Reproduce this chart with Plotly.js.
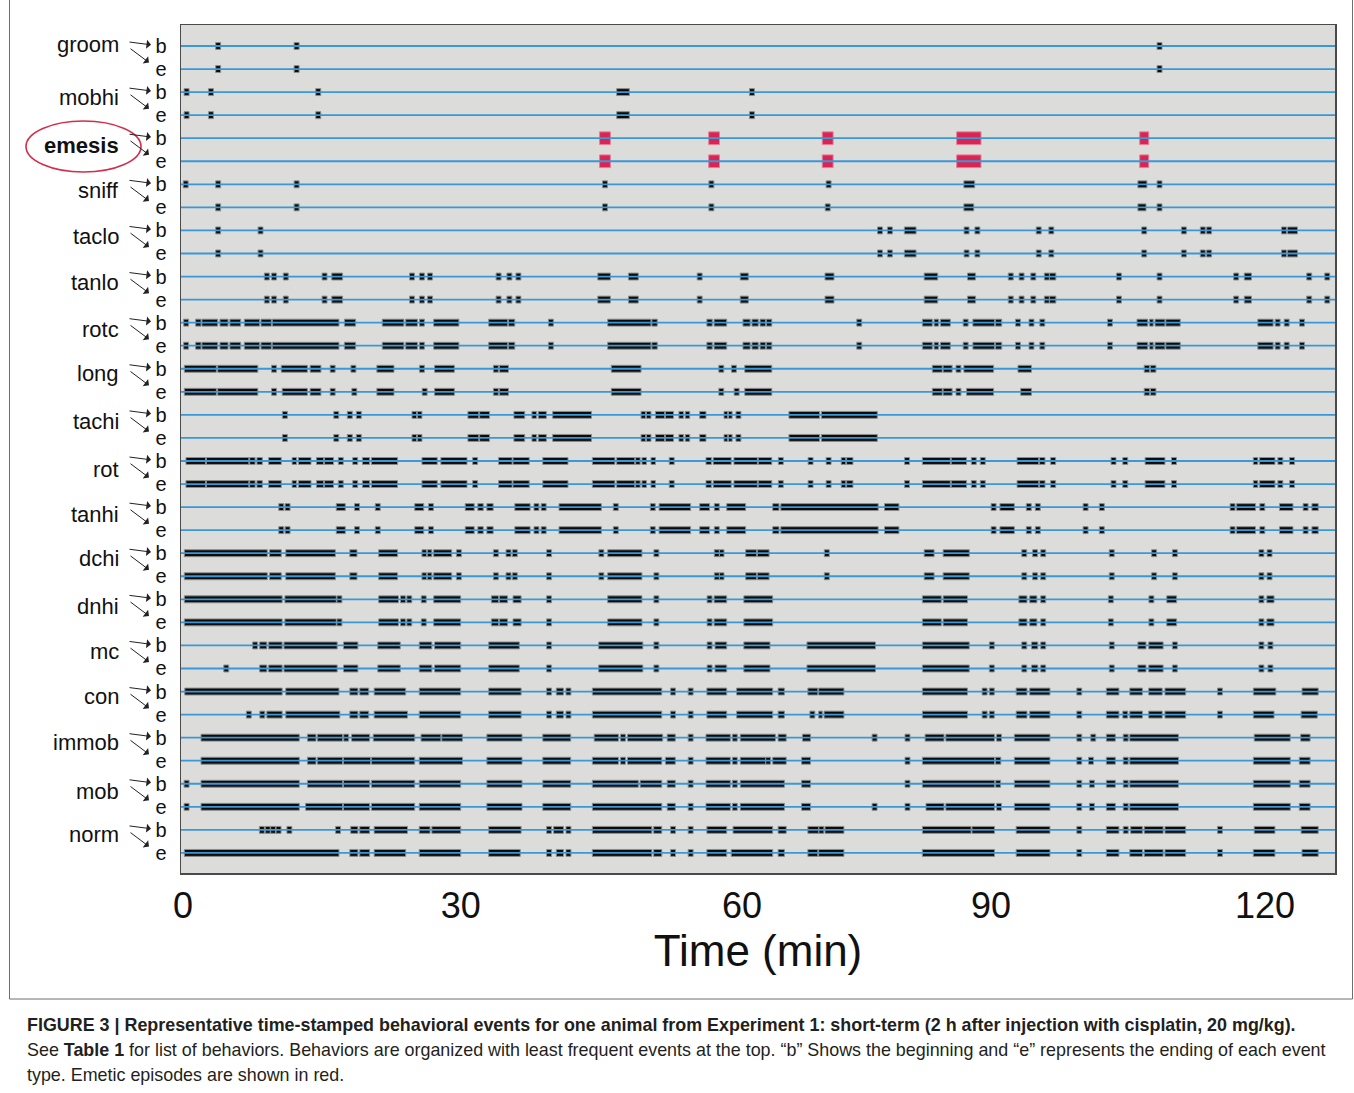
<!DOCTYPE html>
<html><head><meta charset="utf-8">
<script src="https://cdn.plot.ly/plotly-3.0.1.min.js"></script>
<style>html,body{margin:0;padding:0;background:#fff}</style>
</head><body><div id="chart" style="width:1354px;height:1093px"></div>
<script>
// ---- Data (time in minutes; a number = single event, [start,end] = run of events) ----
const behaviors = ['groom','mobhi','emesis','sniff','taclo','tanlo','rotc','long','tachi','rot','tanhi','dchi','dnhi','mc','con','immob','mob','norm'];
const rowLabels = ['b','e'];
const xTickVals = [0, 30.8, 62.0, 89.6, 120];
const xTickText = ['0','30','60','90','120'];

const groomB = [3.9, 12.6, 108.3];
const groomE = [3.9, 12.6, 108.3];
const mobhiB = [0.4, 3.1, 15.0, [48.1,49.5], 63.1];
const mobhiE = [0.4, 3.1, 15.0, [48.1,49.5], 63.1];
const emesisB = [[46.2,47.4],[58.3,59.5],[70.9,72.1],[85.8,88.5],[106.1,107.1]];
const emesisE = [[46.2,47.4],[58.3,59.5],[70.9,72.1],[85.8,88.5],[106.1,107.1]];
const sniffB = [0.3, 3.9, 12.6, 46.8, 58.6, 71.6, [86.6,87.8], [105.9,106.9], 108.3];
const sniffE = [3.9, 12.6, 46.8, 58.6, 71.5, [86.6,87.7], [105.9,106.8], 108.3];
const tacloB = [3.9, 8.6, 77.3, 78.4, [80.0,81.3], 86.9, 88.1, 94.9, 96.3, 106.6, 111.0, 113.1, 113.8, 122.1, [122.5,123.6]];
const tacloE = [3.9, 8.6, 77.3, 78.4, [80.0,81.3], 86.9, 88.1, 94.9, 96.3, 106.6, 111.0, 113.1, 113.8, 122.1, [122.5,123.6]];
const tanloB = [9.3, 10.1, 11.4, 15.7, [16.5,17.7], 25.4, 26.5, 27.4, 35.0, 36.2, 37.2, [46.0,47.4], [49.4,50.5], 57.3, [61.8,62.7], [71.2,72.2], [82.2,83.7], [87.0,87.9], 91.8, 93.0, 94.3, 95.8, [96.1,96.8], 103.8, 108.3, 116.8, [117.7,118.5], 124.9, 126.9];
const tanloE = [9.3, 10.1, 11.4, 15.7, [16.5,17.7], 25.4, 26.5, 27.4, 35.0, 36.2, 37.2, [46.0,47.4], [49.4,50.5], 57.3, [61.8,62.7], [71.2,72.2], [82.2,83.7], [87.0,87.9], 91.8, 93.0, 94.3, 95.8, [96.1,96.8], 103.8, 108.3, 116.8, [117.7,118.5], 124.9, 126.9];
const rotcB = [0.35, [1.4,2.0], [2.1,3.85], [4.1,5.0], [5.2,6.4], [6.8,8.5], [8.65,9.8], [9.9,17.3], [17.9,19.15], [22.1,24.5], [24.7,26.0], 26.5, [27.8,30.6], [33.9,36.0], [36.1,36.8], 40.8, [47.1,51.9], [52.0,52.6], [58.1,58.7], [58.9,60.3], [62.1,62.9], [63.1,63.8], [64.0,64.6], [64.7,65.3], 75.0, [82.0,83.1], [83.3,83.8], [84.0,85.1], 86.8, [87.6,90.0], [90.1,90.8], 92.6, 94.1, 95.3, 102.8, [105.8,107.0], [107.2,107.6], [107.8,108.9], [109.0,110.6], [119.2,120.9], 121.4, 122.4, 124.1];
const rotcE = [0.35, [1.4,2.0], [2.1,3.85], [4.1,5.0], [5.2,6.4], [6.8,8.5], [8.65,9.8], [9.9,17.3], [17.9,19.15], [22.1,24.5], [24.7,26.0], 26.5, [27.8,30.6], [33.9,36.0], [36.1,36.8], 40.8, [47.1,51.9], [52.0,52.6], [58.1,58.7], [58.9,60.3], [62.1,62.9], [63.1,63.8], [64.0,64.6], [64.7,65.3], 75.0, [82.0,83.1], [83.3,83.8], [84.0,85.1], 86.8, [87.6,90.0], [90.1,90.8], 92.6, 94.1, 95.3, 102.8, [105.8,107.0], [107.2,107.6], [107.8,108.9], [109.0,110.6], [119.2,120.9], 121.4, 122.4, 124.1];
const longB = [[0.15,3.7], [3.85,8.3], 10.1, [10.9,13.8], [14.1,15.3], 16.6, 18.9, [21.5,23.4], 26.5, [27.9,30.1], 34.7, [35.1,36.1], [47.5,50.8], 59.7, 61.1, [62.3,65.3], [83.1,84.2], [84.3,85.3], 86.0, [86.6,89.9], [92.6,94.1], [106.6,107.2], [107.3,107.9]];
const longE = [[0.15,3.7], [3.85,8.3], 10.1, [11.0,13.8], [14.1,15.3], 16.6, 19.0, [21.5,23.4], 26.8, [27.9,30.1], 34.7, [35.1,36.1], [47.5,50.8], 59.7, 61.4, [62.3,65.3], [83.1,84.2], [84.3,85.3], 86.0, [86.9,89.9], [92.9,94.1], [106.6,107.2], [107.3,107.9]];
const tachiB = [11.3, 17.0, 18.5, 19.5, [25.4,25.9], [26.0,26.5], [31.6,32.8], [32.9,34.0], [36.7,37.9], [38.7,39.2], [39.4,40.3], [41.0,45.3], [50.8,51.3], [51.4,51.9], [52.4,53.4], [53.5,54.4], [55.0,55.5], [55.7,56.2], [57.3,58.0], [60.0,60.4], [60.5,60.9], 61.6, [67.2,70.6], [70.8,77.0]];
const tachiE = [11.3, 17.0, 18.5, 19.5, [25.4,25.9], [26.0,26.5], [31.6,32.8], [32.9,34.0], [36.7,37.9], [38.7,39.2], [39.4,40.3], [41.0,45.3], [50.8,51.3], [51.4,51.9], [52.4,53.4], [53.5,54.4], [55.0,55.5], [55.7,56.2], [57.3,58.0], [60.0,60.4], [60.5,60.9], 61.6, [67.2,70.6], [70.8,77.0]];
const rotB = [[0.33,2.5], [2.6,7.3], [7.4,8.0], [8.2,8.8], [9.5,10.9], [12.1,12.6], [12.8,14.2], [14.8,15.6], [15.7,16.7], 17.5, 19.1, [19.9,20.7], [20.9,23.8], [26.5,28.2], [28.6,31.5], 32.4, [35.0,36.5], [36.6,38.4], [39.9,42.7], [45.4,47.9], [48.1,50.1], [50.2,50.7], [50.9,51.4], [51.9,52.4], 54.2, [58.0,58.6], [58.8,60.8], [61.1,63.7], [63.8,65.3], 66.3, 69.6, 71.6, [73.0,73.5], [73.6,74.3], 80.3, [82.0,85.1], [85.2,86.9], 87.7, 88.7, [92.5,94.9], [95.0,95.6], 96.5, 103.2, 104.5, [106.7,108.9], 109.9, [118.7,119.2], [119.4,121.1], 121.7, 123.0];
const rotE = [[0.33,2.5], [2.6,7.3], [7.4,8.0], [8.2,8.8], [9.5,10.9], [12.1,12.6], [12.8,14.2], [14.8,15.6], [15.7,16.7], 17.5, 19.1, [19.9,20.7], [20.9,23.8], [26.5,28.2], [28.6,31.5], 32.4, [35.0,36.5], [36.6,38.4], [39.9,42.7], [45.4,47.9], [48.1,50.1], [50.2,50.7], [50.9,51.4], [51.9,52.4], 54.2, [58.0,58.6], [58.8,60.8], [61.1,63.7], [63.8,65.3], 66.3, 69.6, 71.6, [73.0,73.5], [73.6,74.3], 80.3, [82.0,85.1], [85.2,86.9], 87.7, 88.7, [92.5,94.9], [95.0,95.6], 96.5, 103.2, 104.5, [106.7,108.9], 109.9, [118.7,119.2], [119.4,121.1], 121.7, 123.0];
const tanhiB = [10.9, 11.6, [17.0,18.0], 19.3, 21.6, [25.7,26.7], 27.5, [31.3,32.3], [32.7,33.3], [33.7,34.4], [36.8,38.5], 39.2, 40.0, [41.7,46.4], 48.0, 52.1, [52.8,56.3], [57.3,58.4], 59.2, [60.3,62.4], [65.4,66.1], [66.3,77.1], [77.8,79.4], 89.9, [90.6,92.2], 93.8, 94.8, 100.1, 101.9, 116.4, [116.85,118.95], 119.7, [121.6,123.1], 124.5, [125.2,125.9]];
const tanhiE = [10.9, 11.6, [17.0,18.0], 19.3, 21.6, [25.7,26.7], 27.5, [31.3,32.3], [32.7,33.3], [33.7,34.4], [36.8,38.5], 39.2, 40.0, [41.7,46.4], 48.0, 52.1, [52.8,56.3], [57.3,58.4], 59.2, [60.3,62.4], [65.4,66.1], [66.3,77.1], [77.8,79.4], 89.9, [90.6,92.2], 93.8, 94.8, 100.1, 101.9, 116.4, [116.85,118.95], 119.7, [121.6,123.1], 124.5, [125.2,125.9]];
const dchiB = [[0.15,9.35], [9.6,10.9], [11.4,16.9], [18.5,19.3], [21.7,23.8], [26.5,27.0], [27.1,27.6], [27.8,29.8], 30.6, 34.7, 36.1, 36.8, 40.6, 46.4, [47.1,50.9], 52.5, 59.2, [59.5,60.0], [62.4,63.6], [63.7,65.0], 71.4, [82.2,83.3], [84.3,87.2], 93.3, 94.5, 95.4, 103.0, 107.7, 110.0, 119.6, 120.5];
const dchiE = [[0.15,9.35], [9.6,10.9], [11.4,16.9], [18.5,19.3], [21.7,23.8], [26.5,27.0], [27.1,27.6], [27.8,29.8], 30.6, 34.7, 36.1, 36.8, 40.6, 46.4, [47.1,50.9], 52.5, 59.2, [59.5,60.0], [62.4,63.6], [63.7,65.0], 71.4, [82.2,83.3], [84.3,87.2], 93.3, 94.5, 95.4, 103.0, 107.7, 110.0, 119.6, 120.5];
const dnhiB = [[0.15,11.0], [11.3,17.0], 17.35, [21.7,23.9], 24.4, 25.1, 26.7, [27.8,30.8], [34.2,35.0], [35.1,36.0], [36.6,37.5], 40.6, [47.1,50.9], 52.5, 58.4, [58.9,60.3], [62.2,65.4], [82.0,84.1], [84.3,87.0], [92.7,93.6], [93.9,94.7], 95.4, 102.9, 107.4, [109.1,110.2], 119.6, [120.2,121.0]];
const dnhiE = [[0.15,11.0], [11.3,17.0], 17.35, [21.7,23.9], 24.4, 25.1, 26.7, [27.8,30.8], [34.2,35.0], [35.1,36.0], [36.6,37.5], 40.6, [47.1,50.9], 52.5, 58.4, [58.9,60.3], [62.2,65.4], [82.0,84.1], [84.3,87.0], [92.7,93.6], [93.9,94.7], 95.4, 102.9, 107.4, [109.1,110.2], 119.6, [120.2,121.0]];
const mcB = [8.0, [8.5,9.3], [9.5,11.0], [11.2,17.1], [17.8,19.4], [21.6,24.1], [26.2,27.6], [27.9,30.8], [33.9,37.3], 40.6, [46.1,51.0], 52.5, 58.4, [59.0,60.3], [62.2,65.1], [69.2,76.8], [82.0,87.2], 89.7, 93.3, [94.1,94.8], 95.4, 103.0, [105.9,106.8], [107.1,108.7], 110.0, 119.6, 120.6];
const mcE = [4.8, [8.5,9.3], [9.5,11.0], [11.2,17.1], [17.8,19.4], [21.6,24.1], [26.2,27.6], [27.9,30.8], [33.9,37.3], 40.6, [46.1,51.0], 52.5, 58.4, [59.0,60.3], [62.2,65.1], [69.2,76.8], [82.0,87.2], 89.7, 93.3, [94.1,94.8], 95.4, 103.0, [105.9,106.8], [107.1,108.7], 110.0, 119.6, 120.6];
const conB = [[0.2,11.0], [11.4,17.3], [18.5,19.4], [19.6,20.6], [21.2,24.7], [26.2,30.8], [33.9,37.5], 40.6, [41.4,42.2], 42.75, [45.4,53.1], 54.35, 56.3, [58.1,60.3], [61.4,65.4], [66.0,66.7], [69.3,70.4], [70.5,73.3], [82.0,87.0], 88.9, 89.7, [92.4,93.6], [93.9,96.15], 99.4, [102.4,103.8], [105.0,106.4], [107.1,108.6], [108.9,111.2], 115.0, [118.7,121.2], [124.1,125.9]];
const conE = [7.3, 8.8, [9.3,11.0], [11.4,17.4], [18.5,19.4], [19.6,20.6], [21.2,24.9], [26.2,30.8], [33.9,37.5], 40.6, [41.4,42.2], 42.75, [45.4,53.1], 54.35, 56.3, [58.1,60.3], [61.4,65.4], [66.0,66.7], 69.8, [70.5,70.9], [71.1,73.3], [82.0,87.0], 88.9, 89.7, [92.4,93.6], [93.9,96.15], 99.4, [102.4,103.8], 104.5, [105.0,106.4], [107.1,108.6], [108.9,111.2], 115.0, [118.7,121.0], [124.0,125.8]];
const immobB = [[2.0,12.9], [13.8,14.75], [14.9,17.7], 18.1, [18.7,20.7], [21.1,25.7], [26.4,28.6], [28.7,31.0], [33.7,37.6], [39.9,43.0], [45.6,48.3], 48.8, [49.3,53.2], [53.7,54.6], 56.3, [58.0,60.7], 61.2, [61.8,65.7], [66.0,66.9], [68.7,69.6], 76.7, 80.35, [82.3,84.4], [84.6,90.0], 90.5, [92.2,96.15], 99.4, 100.95, [102.4,103.4], 104.55, [105.0,110.4], [118.8,122.8], [123.95,125.0]];
const immobE = [[2.0,12.9], [13.8,14.75], [14.9,17.7], [17.8,20.8], [20.9,25.7], [26.2,31.0], [33.7,37.6], [39.9,43.0], [45.4,48.3], 48.8, [49.3,53.1], [53.5,54.6], 56.3, [58.0,60.7], 61.2, [61.8,64.6], 64.9, [65.4,66.9], [68.6,69.6], 80.35, [82.0,90.0], [90.1,90.7], [92.2,96.15], 99.4, 100.7, [102.4,103.4], 104.55, [105.0,110.4], [118.7,122.8], [123.8,125.0]];
const mobB = [0.4, [2.0,12.9], [13.8,17.7], [17.8,20.7], [20.9,25.7], [26.2,30.8], [33.7,37.6], [39.9,43.0], [45.4,50.5], [50.7,53.1], [53.7,54.6], 56.3, [58.0,60.7], 61.2, [61.8,66.7], [68.6,69.6], 80.35, [82.0,90.0], 90.4, [92.2,96.15], 99.4, 100.8, [102.4,103.4], 104.55, [105.0,110.4], [118.7,122.8], [123.8,125.0]];
const mobE = [0.4, [2.0,12.9], [13.6,17.7], [17.8,20.7], [20.9,25.7], [26.2,30.8], [33.7,37.6], [39.9,43.0], [45.4,53.1], [53.7,54.6], 56.3, [58.0,60.7], 61.2, [61.8,66.7], [68.6,69.6], 76.7, 80.35, [82.4,84.4], [84.6,90.0], 90.5, [92.2,96.15], 99.4, 100.8, [102.4,103.4], 104.55, [105.0,110.4], [118.7,122.8], [123.8,125.0]];
const normB = [8.75, 9.4, 10.0, 10.6, 11.8, 17.2, [18.6,19.4], [19.6,20.7], [21.2,24.9], [26.2,27.4], [27.6,30.8], [33.9,37.5], 40.6, [41.1,42.2], 42.75, [45.4,52.0], [52.2,53.1], 54.35, 56.3, [58.1,60.3], [61.0,65.4], [66.0,66.9], [69.3,70.5], 70.8, [71.2,73.3], [82.0,87.4], [87.5,90.0], [92.4,96.15], 99.4, [102.4,103.8], 104.55, [105.1,106.4], [106.6,108.7], [108.9,111.2], 115.0, [118.8,121.1], [124.0,125.9]];
const normE = [[0.15,17.3], [18.5,19.4], [19.6,20.7], [21.2,24.7], [26.2,30.8], [33.9,37.4], 40.6, [41.4,42.2], 42.75, [45.4,52.0], [52.2,53.1], 54.35, 56.3, [58.1,60.3], [60.8,65.4], [66.0,66.7], [69.3,70.4], [70.5,73.3], [82.0,90.0], [92.4,96.15], 99.4, [102.4,103.8], [105.0,106.4], [106.6,108.7], [108.9,111.2], 115.0, [118.7,121.1], [124.1,125.9]];

const rowData = [groomB, groomE, mobhiB, mobhiE, emesisB, emesisE, sniffB, sniffE, tacloB, tacloE,
  tanloB, tanloE, rotcB, rotcE, longB, longE, tachiB, tachiE, rotB, rotE, tanhiB, tanhiE,
  dchiB, dchiE, dnhiB, dnhiE, mcB, mcE, conB, conE, immobB, immobE, mobB, mobE, normB, normE];
const redRows = [4, 5];  // emesis rows

// ---- Build traces ----
const MARK_W = 0.55; // visual width of a single event mark (min)
function collect(rows) {
  const y = [], base = [], len = [];
  rows.forEach(r => {
    rowData[r].forEach(ev => {
      let s, e;
      if (Array.isArray(ev)) { s = ev[0]; e = ev[1]; } else { s = ev - MARK_W/2; e = ev + MARK_W/2; }
      y.push(r); base.push(s); len.push(e - s);
    });
  });
  return {y, base, len};
}
const allRows = rowData.map((_, i) => i);
const blackRows = allRows.filter(i => !redRows.includes(i));
const blk = collect(blackRows);
const red = collect(redRows);

const X0 = -0.22, X1 = 127.76;
const lineX = [], lineY = [];
allRows.forEach(i => { lineX.push(X0, X1, null); lineY.push(i, i, null); });

const traces = [
  {type:'bar', orientation:'h', y: blk.y, x: blk.len, base: blk.base, width: 0.3,
   marker:{color:'#0b0b0b', line:{color:'#8c8c8c', width:1}}, hoverinfo:'skip', showlegend:false},
  {type:'bar', orientation:'h', y: red.y, x: red.len, base: red.base, width: 0.55,
   marker:{color:'#dc2452', line:{color:'#e77d96', width:1}}, hoverinfo:'skip', showlegend:false},
  {type:'scatter', mode:'lines', x: lineX, y: lineY, line:{color:'#3a98d8', width:1.8},
   hoverinfo:'skip', showlegend:false}
];

// ---- Layout ----
const W = 1354, H = 1093, ML = 181, MR = 19, MT = 25, MB = 220;
const PW = W - ML - MR, PH = H - MT - MB;
const px = v => (v - ML) / PW;           // page x pixel -> paper
const py = v => (H - MB - v) / PH;       // page y pixel -> paper

const sans = 'Liberation Sans, Arial, sans-serif';
const labelOffset = [-0.05, 0.25, 0.3, 0.25, 0.25, 0.25, 0.3, 0.2, 0.28, 0.35, 0.3, 0.25, 0.3, 0.25, 0.2, 0.2, 0.35, 0.22];
const annotations = [];
behaviors.forEach((name, k) => {
  const rb = 2*k;
  annotations.push({xref:'paper', yref:'y', x: px(121), y: rb + labelOffset[k], xanchor:'right', yanchor:'middle',
    text: name === 'emesis' ? '<b>'+name+'</b>' : name, showarrow:false,
    font:{family: sans, size:22, color:'#111'}});
  annotations.push({xref:'paper', yref:'y', x: px(151), y: rb - 0.05, text:'', showarrow:true,
    ax:-23, ay:-3, arrowhead:1, arrowsize:1.5, arrowwidth:1, arrowcolor:'#222'});
  annotations.push({xref:'paper', yref:'y', x: px(149), y: rb + 0.72, text:'', showarrow:true,
    ax:-20, ay:-15, arrowhead:1, arrowsize:1.5, arrowwidth:1, arrowcolor:'#222'});
});
const capColor = '#231f20';
annotations.push({xref:'paper', yref:'paper', x: px(25), y: py(1025), xanchor:'left', yanchor:'middle', showarrow:false,
  text:'<b>FIGURE 3 | Representative time-stamped behavioral events for one animal from Experiment 1: short-term (2 h after injection with cisplatin, 20 mg/kg).</b>',
  font: {family: sans, size:17.9, color: capColor}});
annotations.push({xref:'paper', yref:'paper', x: px(25), y: py(1050), xanchor:'left', yanchor:'middle', showarrow:false,
  text:'See <b>Table 1</b> for list of behaviors. Behaviors are organized with least frequent events at the top. \u201cb\u201d Shows the beginning and \u201ce\u201d represents the ending of each event',
  font: {family: sans, size:17.9, color: capColor}});
annotations.push({xref:'paper', yref:'paper', x: px(25), y: py(1075), xanchor:'left', yanchor:'middle', showarrow:false,
  text:'type. Emetic episodes are shown in red.', font: {family: sans, size:17.9, color: capColor}});

const shapes = [
  {type:'rect', xref:'paper', yref:'paper', x0: px(9.5), x1: px(1352.5), y0: py(999), y1: py(-5),
   line:{color:'#6e6e6e', width:1}, fillcolor:'rgba(0,0,0,0)', layer:'below'},
  {type:'circle', xref:'paper', yref:'paper', x0: px(26), x1: px(141), y0: py(172), y1: py(121),
   line:{color:'#d42c4c', width:1.6}}
];

const layout = {
  width: W, height: H,
  margin: {l: ML, r: MR, t: MT, b: MB},
  paper_bgcolor: '#ffffff', plot_bgcolor: '#dcdcda',
  barmode: 'overlay', showlegend: false,
  xaxis: {range: [X0, X1], tickvals: xTickVals, ticktext: xTickText, ticks: '',
    showgrid: false, zeroline: false, showline: true, mirror: true, linecolor: '#4a4a4a', linewidth: 1.5,
    tickfont: {family: sans, size: 36, color: '#111'}, ticklabelstandoff: 0,
    title: {text: 'Time (min)', font: {family: sans, size: 44, color: '#111'}, standoff: 8}},
  yaxis: {range: [35.87, -0.91], tickvals: allRows, ticktext: allRows.map(i => rowLabels[i % 2]), ticks: '',
    showgrid: false, zeroline: false, showline: true, mirror: true, linecolor: '#4a4a4a', linewidth: 1.5,
    tickfont: {family: sans, size: 20, color: '#111'}, ticklabelstandoff: 9},
  annotations: annotations,
  shapes: shapes
};

Plotly.newPlot('chart', traces, layout, {staticPlot: true, displayModeBar: false});
</script>
</body></html>
